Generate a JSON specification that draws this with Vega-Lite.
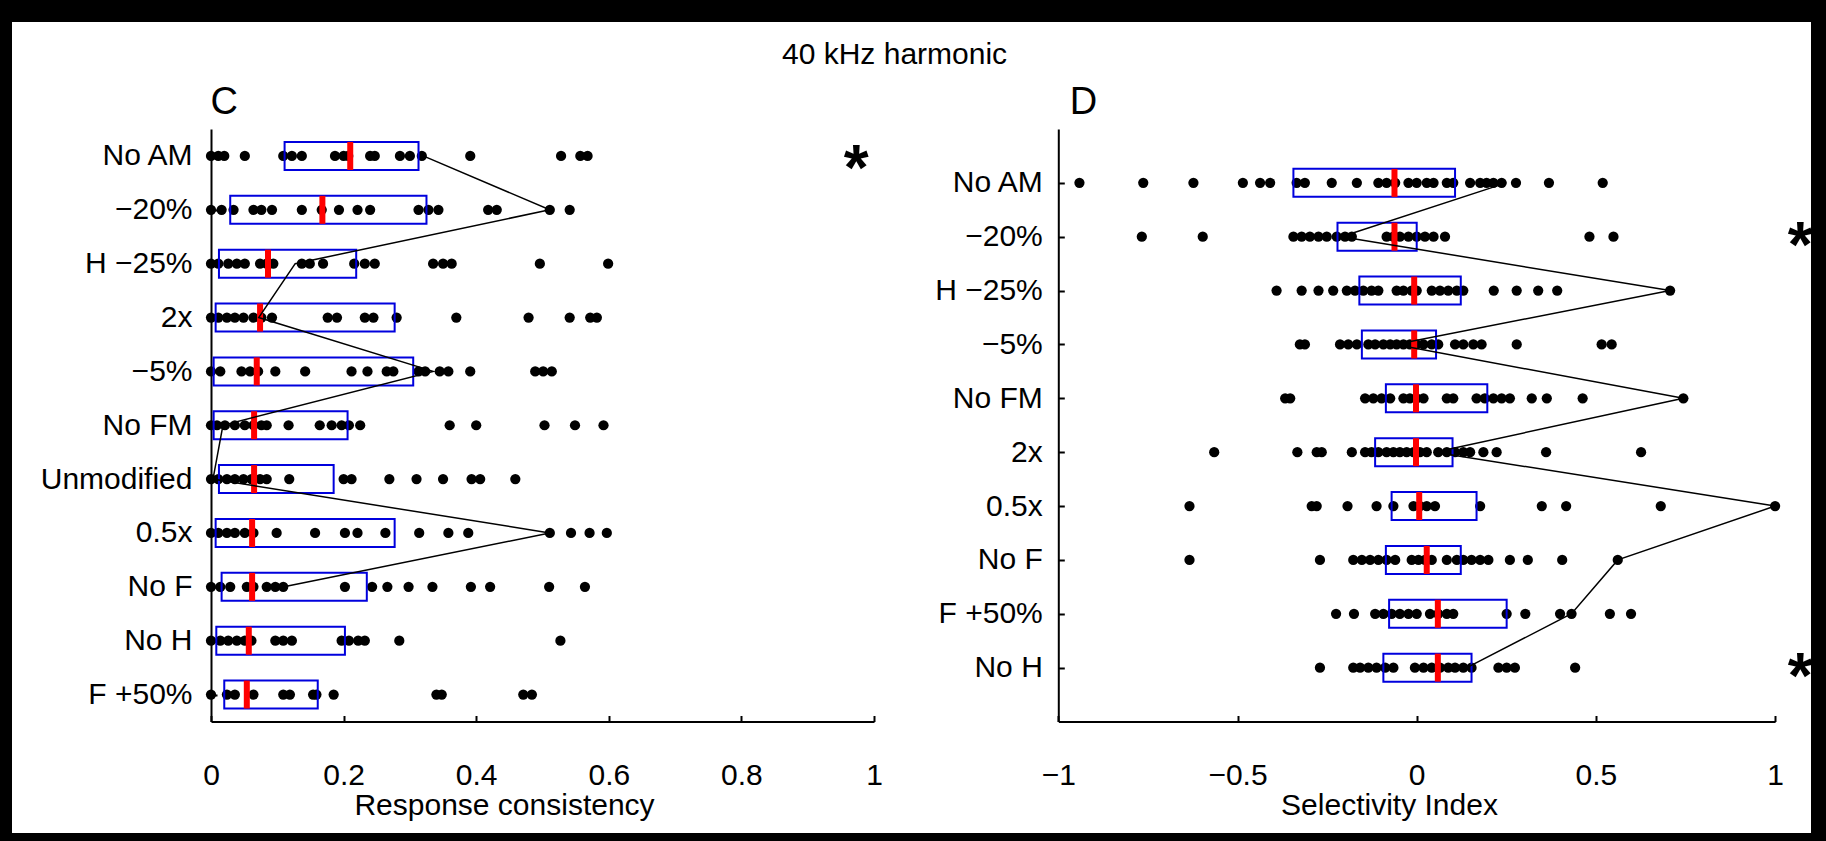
{
  "$schema": "https://vega.github.io/schema/vega-lite/v6.json",
  "width": 1799,
  "height": 811,
  "autosize": {"type": "none"},
  "padding": {"left": 12, "top": 22, "right": 15, "bottom": 8},
  "background": "black",
  "view": {"fill": "white", "stroke": null},
  "title": {
    "text": "40 kHz harmonic",
    "anchor": "start",
    "frame": "group",
    "offset": 0,
    "dx": 770,
    "dy": 72,
    "baseline": "alphabetic",
    "fontSize": 30,
    "fontWeight": "normal",
    "color": "black"
  },
  "config": {
    "font": "Liberation Sans",
    "axis": {
      "grid": false,
      "domainColor": "black",
      "domainWidth": 2,
      "tickColor": "black",
      "tickWidth": 2,
      "tickSize": -6,
      "labelColor": "black",
      "labelFontSize": 30,
      "labelFlush": false,
      "labelOverlap": false,
      "titleColor": "black",
      "titleFontWeight": "normal"
    },
    "axisX": {"labelPadding": 45}
  },
  "datasets": {
    "consistency": [
      {"stimulus": "No AM", "value": 0}, {"stimulus": "No AM", "value": 0.011}, {"stimulus": "No AM", "value": 0.02}, {"stimulus": "No AM", "value": 0.051},
      {"stimulus": "No AM", "value": 0.109}, {"stimulus": "No AM", "value": 0.122}, {"stimulus": "No AM", "value": 0.137}, {"stimulus": "No AM", "value": 0.187},
      {"stimulus": "No AM", "value": 0.2}, {"stimulus": "No AM", "value": 0.207}, {"stimulus": "No AM", "value": 0.24}, {"stimulus": "No AM", "value": 0.247},
      {"stimulus": "No AM", "value": 0.285}, {"stimulus": "No AM", "value": 0.3}, {"stimulus": "No AM", "value": 0.318}, {"stimulus": "No AM", "value": 0.391},
      {"stimulus": "No AM", "value": 0.528}, {"stimulus": "No AM", "value": 0.557}, {"stimulus": "No AM", "value": 0.568},
      {"stimulus": "−20%", "value": 0}, {"stimulus": "−20%", "value": 0.016}, {"stimulus": "−20%", "value": 0.034}, {"stimulus": "−20%", "value": 0.064},
      {"stimulus": "−20%", "value": 0.076}, {"stimulus": "−20%", "value": 0.092}, {"stimulus": "−20%", "value": 0.137}, {"stimulus": "−20%", "value": 0.167},
      {"stimulus": "−20%", "value": 0.193}, {"stimulus": "−20%", "value": 0.221}, {"stimulus": "−20%", "value": 0.24}, {"stimulus": "−20%", "value": 0.313},
      {"stimulus": "−20%", "value": 0.328}, {"stimulus": "−20%", "value": 0.343}, {"stimulus": "−20%", "value": 0.418}, {"stimulus": "−20%", "value": 0.431},
      {"stimulus": "−20%", "value": 0.511}, {"stimulus": "−20%", "value": 0.541},
      {"stimulus": "H −25%", "value": 0}, {"stimulus": "H −25%", "value": 0.011}, {"stimulus": "H −25%", "value": 0.026}, {"stimulus": "H −25%", "value": 0.039},
      {"stimulus": "H −25%", "value": 0.051}, {"stimulus": "H −25%", "value": 0.074}, {"stimulus": "H −25%", "value": 0.084}, {"stimulus": "H −25%", "value": 0.094},
      {"stimulus": "H −25%", "value": 0.137}, {"stimulus": "H −25%", "value": 0.149}, {"stimulus": "H −25%", "value": 0.169}, {"stimulus": "H −25%", "value": 0.216},
      {"stimulus": "H −25%", "value": 0.232}, {"stimulus": "H −25%", "value": 0.247}, {"stimulus": "H −25%", "value": 0.335}, {"stimulus": "H −25%", "value": 0.35},
      {"stimulus": "H −25%", "value": 0.363}, {"stimulus": "H −25%", "value": 0.496}, {"stimulus": "H −25%", "value": 0.599},
      {"stimulus": "2x", "value": 0}, {"stimulus": "2x", "value": 0.011}, {"stimulus": "2x", "value": 0.024}, {"stimulus": "2x", "value": 0.036},
      {"stimulus": "2x", "value": 0.049}, {"stimulus": "2x", "value": 0.064}, {"stimulus": "2x", "value": 0.076}, {"stimulus": "2x", "value": 0.092},
      {"stimulus": "2x", "value": 0.176}, {"stimulus": "2x", "value": 0.19}, {"stimulus": "2x", "value": 0.232}, {"stimulus": "2x", "value": 0.245},
      {"stimulus": "2x", "value": 0.28}, {"stimulus": "2x", "value": 0.37}, {"stimulus": "2x", "value": 0.479}, {"stimulus": "2x", "value": 0.541},
      {"stimulus": "2x", "value": 0.572}, {"stimulus": "2x", "value": 0.582},
      {"stimulus": "−5%", "value": 0}, {"stimulus": "−5%", "value": 0.014}, {"stimulus": "−5%", "value": 0.046}, {"stimulus": "−5%", "value": 0.059},
      {"stimulus": "−5%", "value": 0.071}, {"stimulus": "−5%", "value": 0.097}, {"stimulus": "−5%", "value": 0.142}, {"stimulus": "−5%", "value": 0.212},
      {"stimulus": "−5%", "value": 0.236}, {"stimulus": "−5%", "value": 0.265}, {"stimulus": "−5%", "value": 0.275}, {"stimulus": "−5%", "value": 0.313},
      {"stimulus": "−5%", "value": 0.323}, {"stimulus": "−5%", "value": 0.345}, {"stimulus": "−5%", "value": 0.358}, {"stimulus": "−5%", "value": 0.391},
      {"stimulus": "−5%", "value": 0.489}, {"stimulus": "−5%", "value": 0.501}, {"stimulus": "−5%", "value": 0.514},
      {"stimulus": "No FM", "value": 0}, {"stimulus": "No FM", "value": 0.009}, {"stimulus": "No FM", "value": 0.021}, {"stimulus": "No FM", "value": 0.036},
      {"stimulus": "No FM", "value": 0.051}, {"stimulus": "No FM", "value": 0.064}, {"stimulus": "No FM", "value": 0.076}, {"stimulus": "No FM", "value": 0.084},
      {"stimulus": "No FM", "value": 0.117}, {"stimulus": "No FM", "value": 0.164}, {"stimulus": "No FM", "value": 0.182}, {"stimulus": "No FM", "value": 0.197},
      {"stimulus": "No FM", "value": 0.208}, {"stimulus": "No FM", "value": 0.225}, {"stimulus": "No FM", "value": 0.36}, {"stimulus": "No FM", "value": 0.4},
      {"stimulus": "No FM", "value": 0.503}, {"stimulus": "No FM", "value": 0.549}, {"stimulus": "No FM", "value": 0.592},
      {"stimulus": "Unmodified", "value": 0}, {"stimulus": "Unmodified", "value": 0.011}, {"stimulus": "Unmodified", "value": 0.024}, {"stimulus": "Unmodified", "value": 0.036},
      {"stimulus": "Unmodified", "value": 0.049}, {"stimulus": "Unmodified", "value": 0.061}, {"stimulus": "Unmodified", "value": 0.074}, {"stimulus": "Unmodified", "value": 0.084},
      {"stimulus": "Unmodified", "value": 0.118}, {"stimulus": "Unmodified", "value": 0.2}, {"stimulus": "Unmodified", "value": 0.212}, {"stimulus": "Unmodified", "value": 0.269},
      {"stimulus": "Unmodified", "value": 0.31}, {"stimulus": "Unmodified", "value": 0.35}, {"stimulus": "Unmodified", "value": 0.393}, {"stimulus": "Unmodified", "value": 0.406},
      {"stimulus": "Unmodified", "value": 0.459},
      {"stimulus": "0.5x", "value": 0}, {"stimulus": "0.5x", "value": 0.011}, {"stimulus": "0.5x", "value": 0.024}, {"stimulus": "0.5x", "value": 0.036},
      {"stimulus": "0.5x", "value": 0.051}, {"stimulus": "0.5x", "value": 0.064}, {"stimulus": "0.5x", "value": 0.099}, {"stimulus": "0.5x", "value": 0.157},
      {"stimulus": "0.5x", "value": 0.202}, {"stimulus": "0.5x", "value": 0.221}, {"stimulus": "0.5x", "value": 0.263}, {"stimulus": "0.5x", "value": 0.314},
      {"stimulus": "0.5x", "value": 0.358}, {"stimulus": "0.5x", "value": 0.388}, {"stimulus": "0.5x", "value": 0.511}, {"stimulus": "0.5x", "value": 0.543},
      {"stimulus": "0.5x", "value": 0.571}, {"stimulus": "0.5x", "value": 0.597},
      {"stimulus": "No F", "value": 0}, {"stimulus": "No F", "value": 0.014}, {"stimulus": "No F", "value": 0.029}, {"stimulus": "No F", "value": 0.054},
      {"stimulus": "No F", "value": 0.064}, {"stimulus": "No F", "value": 0.084}, {"stimulus": "No F", "value": 0.097}, {"stimulus": "No F", "value": 0.109},
      {"stimulus": "No F", "value": 0.202}, {"stimulus": "No F", "value": 0.243}, {"stimulus": "No F", "value": 0.266}, {"stimulus": "No F", "value": 0.298},
      {"stimulus": "No F", "value": 0.334}, {"stimulus": "No F", "value": 0.392}, {"stimulus": "No F", "value": 0.421}, {"stimulus": "No F", "value": 0.51},
      {"stimulus": "No F", "value": 0.564},
      {"stimulus": "No H", "value": 0}, {"stimulus": "No H", "value": 0.014}, {"stimulus": "No H", "value": 0.026}, {"stimulus": "No H", "value": 0.039},
      {"stimulus": "No H", "value": 0.051}, {"stimulus": "No H", "value": 0.061}, {"stimulus": "No H", "value": 0.097}, {"stimulus": "No H", "value": 0.109},
      {"stimulus": "No H", "value": 0.122}, {"stimulus": "No H", "value": 0.197}, {"stimulus": "No H", "value": 0.208}, {"stimulus": "No H", "value": 0.222},
      {"stimulus": "No H", "value": 0.232}, {"stimulus": "No H", "value": 0.284}, {"stimulus": "No H", "value": 0.527},
      {"stimulus": "F +50%", "value": 0}, {"stimulus": "F +50%", "value": 0.024}, {"stimulus": "F +50%", "value": 0.036}, {"stimulus": "F +50%", "value": 0.064},
      {"stimulus": "F +50%", "value": 0.109}, {"stimulus": "F +50%", "value": 0.119}, {"stimulus": "F +50%", "value": 0.154}, {"stimulus": "F +50%", "value": 0.159},
      {"stimulus": "F +50%", "value": 0.185}, {"stimulus": "F +50%", "value": 0.34}, {"stimulus": "F +50%", "value": 0.348}, {"stimulus": "F +50%", "value": 0.471},
      {"stimulus": "F +50%", "value": 0.484}
    ],
    "consistencyBoxes": [
      {"stimulus": "No AM", "q1": 0.111, "median": 0.21, "q3": 0.313},
      {"stimulus": "−20%", "q1": 0.029, "median": 0.168, "q3": 0.325},
      {"stimulus": "H −25%", "q1": 0.012, "median": 0.086, "q3": 0.219},
      {"stimulus": "2x", "q1": 0.007, "median": 0.074, "q3": 0.277},
      {"stimulus": "−5%", "q1": 0.004, "median": 0.069, "q3": 0.305},
      {"stimulus": "No FM", "q1": 0.004, "median": 0.065, "q3": 0.206},
      {"stimulus": "Unmodified", "q1": 0.012, "median": 0.065, "q3": 0.185},
      {"stimulus": "0.5x", "q1": 0.007, "median": 0.062, "q3": 0.277},
      {"stimulus": "No F", "q1": 0.016, "median": 0.062, "q3": 0.235},
      {"stimulus": "No H", "q1": 0.008, "median": 0.057, "q3": 0.202},
      {"stimulus": "F +50%", "q1": 0.02, "median": 0.054, "q3": 0.161}
    ],
    "consistencyTrace": [
      {"stimulus": "No AM", "value": 0.32},
      {"stimulus": "−20%", "value": 0.511},
      {"stimulus": "H −25%", "value": 0.127},
      {"stimulus": "2x", "value": 0.072},
      {"stimulus": "−5%", "value": 0.335},
      {"stimulus": "No FM", "value": 0.018},
      {"stimulus": "Unmodified", "value": 0.003},
      {"stimulus": "0.5x", "value": 0.511},
      {"stimulus": "No F", "value": 0.11}
    ],
    "consistencyMarks": [
      {"stimulus": "No AM", "value": 0.973, "label": "*"}
    ],
    "selectivity": [
      {"stimulus": "No AM", "value": -0.941}, {"stimulus": "No AM", "value": -0.763}, {"stimulus": "No AM", "value": -0.623}, {"stimulus": "No AM", "value": -0.485},
      {"stimulus": "No AM", "value": -0.437}, {"stimulus": "No AM", "value": -0.409}, {"stimulus": "No AM", "value": -0.335}, {"stimulus": "No AM", "value": -0.312},
      {"stimulus": "No AM", "value": -0.237}, {"stimulus": "No AM", "value": -0.167}, {"stimulus": "No AM", "value": -0.107}, {"stimulus": "No AM", "value": -0.084},
      {"stimulus": "No AM", "value": -0.06}, {"stimulus": "No AM", "value": -0.023}, {"stimulus": "No AM", "value": 0}, {"stimulus": "No AM", "value": 0.028},
      {"stimulus": "No AM", "value": 0.047}, {"stimulus": "No AM", "value": 0.084}, {"stimulus": "No AM", "value": 0.102}, {"stimulus": "No AM", "value": 0.149},
      {"stimulus": "No AM", "value": 0.177}, {"stimulus": "No AM", "value": 0.195}, {"stimulus": "No AM", "value": 0.214}, {"stimulus": "No AM", "value": 0.237},
      {"stimulus": "No AM", "value": 0.277}, {"stimulus": "No AM", "value": 0.369}, {"stimulus": "No AM", "value": 0.519},
      {"stimulus": "−20%", "value": -0.767}, {"stimulus": "−20%", "value": -0.597}, {"stimulus": "−20%", "value": -0.344}, {"stimulus": "−20%", "value": -0.321},
      {"stimulus": "−20%", "value": -0.298}, {"stimulus": "−20%", "value": -0.274}, {"stimulus": "−20%", "value": -0.251}, {"stimulus": "−20%", "value": -0.223},
      {"stimulus": "−20%", "value": -0.2}, {"stimulus": "−20%", "value": -0.181}, {"stimulus": "−20%", "value": -0.084}, {"stimulus": "−20%", "value": -0.065},
      {"stimulus": "−20%", "value": -0.047}, {"stimulus": "−20%", "value": -0.023}, {"stimulus": "−20%", "value": 0}, {"stimulus": "−20%", "value": 0.023},
      {"stimulus": "−20%", "value": 0.047}, {"stimulus": "−20%", "value": 0.079}, {"stimulus": "−20%", "value": 0.482}, {"stimulus": "−20%", "value": 0.549},
      {"stimulus": "H −25%", "value": -0.391}, {"stimulus": "H −25%", "value": -0.321}, {"stimulus": "H −25%", "value": -0.274}, {"stimulus": "H −25%", "value": -0.233},
      {"stimulus": "H −25%", "value": -0.195}, {"stimulus": "H −25%", "value": -0.172}, {"stimulus": "H −25%", "value": -0.149}, {"stimulus": "H −25%", "value": -0.126},
      {"stimulus": "H −25%", "value": -0.107}, {"stimulus": "H −25%", "value": -0.056}, {"stimulus": "H −25%", "value": -0.037}, {"stimulus": "H −25%", "value": -0.014},
      {"stimulus": "H −25%", "value": 0}, {"stimulus": "H −25%", "value": 0.042}, {"stimulus": "H −25%", "value": 0.065}, {"stimulus": "H −25%", "value": 0.088},
      {"stimulus": "H −25%", "value": 0.112}, {"stimulus": "H −25%", "value": 0.13}, {"stimulus": "H −25%", "value": 0.215}, {"stimulus": "H −25%", "value": 0.279},
      {"stimulus": "H −25%", "value": 0.339}, {"stimulus": "H −25%", "value": 0.392}, {"stimulus": "H −25%", "value": 0.707},
      {"stimulus": "−5%", "value": -0.326}, {"stimulus": "−5%", "value": -0.312}, {"stimulus": "−5%", "value": -0.214}, {"stimulus": "−5%", "value": -0.191},
      {"stimulus": "−5%", "value": -0.167}, {"stimulus": "−5%", "value": -0.135}, {"stimulus": "−5%", "value": -0.116}, {"stimulus": "−5%", "value": -0.093},
      {"stimulus": "−5%", "value": -0.074}, {"stimulus": "−5%", "value": -0.056}, {"stimulus": "−5%", "value": -0.037}, {"stimulus": "−5%", "value": -0.019},
      {"stimulus": "−5%", "value": 0}, {"stimulus": "−5%", "value": 0.019}, {"stimulus": "−5%", "value": 0.042}, {"stimulus": "−5%", "value": 0.06},
      {"stimulus": "−5%", "value": 0.107}, {"stimulus": "−5%", "value": 0.13}, {"stimulus": "−5%", "value": 0.158}, {"stimulus": "−5%", "value": 0.181},
      {"stimulus": "−5%", "value": 0.279}, {"stimulus": "−5%", "value": 0.516}, {"stimulus": "−5%", "value": 0.544},
      {"stimulus": "No FM", "value": -0.367}, {"stimulus": "No FM", "value": -0.353}, {"stimulus": "No FM", "value": -0.144}, {"stimulus": "No FM", "value": -0.121},
      {"stimulus": "No FM", "value": -0.098}, {"stimulus": "No FM", "value": -0.074}, {"stimulus": "No FM", "value": -0.037}, {"stimulus": "No FM", "value": -0.019},
      {"stimulus": "No FM", "value": 0}, {"stimulus": "No FM", "value": 0.019}, {"stimulus": "No FM", "value": 0.084}, {"stimulus": "No FM", "value": 0.102},
      {"stimulus": "No FM", "value": 0.167}, {"stimulus": "No FM", "value": 0.19}, {"stimulus": "No FM", "value": 0.214}, {"stimulus": "No FM", "value": 0.237},
      {"stimulus": "No FM", "value": 0.26}, {"stimulus": "No FM", "value": 0.321}, {"stimulus": "No FM", "value": 0.363}, {"stimulus": "No FM", "value": 0.463},
      {"stimulus": "No FM", "value": 0.744},
      {"stimulus": "2x", "value": -0.565}, {"stimulus": "2x", "value": -0.333}, {"stimulus": "2x", "value": -0.279}, {"stimulus": "2x", "value": -0.265},
      {"stimulus": "2x", "value": -0.181}, {"stimulus": "2x", "value": -0.144}, {"stimulus": "2x", "value": -0.126}, {"stimulus": "2x", "value": -0.107},
      {"stimulus": "2x", "value": -0.084}, {"stimulus": "2x", "value": -0.065}, {"stimulus": "2x", "value": -0.047}, {"stimulus": "2x", "value": -0.028},
      {"stimulus": "2x", "value": -0.009}, {"stimulus": "2x", "value": 0.009}, {"stimulus": "2x", "value": 0.028}, {"stimulus": "2x", "value": 0.06},
      {"stimulus": "2x", "value": 0.084}, {"stimulus": "2x", "value": 0.107}, {"stimulus": "2x", "value": 0.13}, {"stimulus": "2x", "value": 0.149},
      {"stimulus": "2x", "value": 0.186}, {"stimulus": "2x", "value": 0.223}, {"stimulus": "2x", "value": 0.361}, {"stimulus": "2x", "value": 0.626},
      {"stimulus": "0.5x", "value": -0.634}, {"stimulus": "0.5x", "value": -0.293}, {"stimulus": "0.5x", "value": -0.279}, {"stimulus": "0.5x", "value": -0.193},
      {"stimulus": "0.5x", "value": -0.112}, {"stimulus": "0.5x", "value": -0.065}, {"stimulus": "0.5x", "value": -0.009}, {"stimulus": "0.5x", "value": 0.009},
      {"stimulus": "0.5x", "value": 0.028}, {"stimulus": "0.5x", "value": 0.051}, {"stimulus": "0.5x", "value": 0.177}, {"stimulus": "0.5x", "value": 0.349},
      {"stimulus": "0.5x", "value": 0.417}, {"stimulus": "0.5x", "value": 0.681}, {"stimulus": "0.5x", "value": 1},
      {"stimulus": "No F", "value": -0.634}, {"stimulus": "No F", "value": -0.27}, {"stimulus": "No F", "value": -0.177}, {"stimulus": "No F", "value": -0.153},
      {"stimulus": "No F", "value": -0.13}, {"stimulus": "No F", "value": -0.107}, {"stimulus": "No F", "value": -0.084}, {"stimulus": "No F", "value": -0.06},
      {"stimulus": "No F", "value": -0.014}, {"stimulus": "No F", "value": 0.005}, {"stimulus": "No F", "value": 0.023}, {"stimulus": "No F", "value": 0.042},
      {"stimulus": "No F", "value": 0.084}, {"stimulus": "No F", "value": 0.112}, {"stimulus": "No F", "value": 0.13}, {"stimulus": "No F", "value": 0.153},
      {"stimulus": "No F", "value": 0.177}, {"stimulus": "No F", "value": 0.2}, {"stimulus": "No F", "value": 0.26}, {"stimulus": "No F", "value": 0.31},
      {"stimulus": "No F", "value": 0.406}, {"stimulus": "No F", "value": 0.561},
      {"stimulus": "F +50%", "value": -0.225}, {"stimulus": "F +50%", "value": -0.175}, {"stimulus": "F +50%", "value": -0.116}, {"stimulus": "F +50%", "value": -0.093},
      {"stimulus": "F +50%", "value": -0.07}, {"stimulus": "F +50%", "value": -0.047}, {"stimulus": "F +50%", "value": -0.023}, {"stimulus": "F +50%", "value": 0},
      {"stimulus": "F +50%", "value": 0.037}, {"stimulus": "F +50%", "value": 0.06}, {"stimulus": "F +50%", "value": 0.084}, {"stimulus": "F +50%", "value": 0.102},
      {"stimulus": "F +50%", "value": 0.251}, {"stimulus": "F +50%", "value": 0.303}, {"stimulus": "F +50%", "value": 0.4}, {"stimulus": "F +50%", "value": 0.432},
      {"stimulus": "F +50%", "value": 0.539}, {"stimulus": "F +50%", "value": 0.598},
      {"stimulus": "No H", "value": -0.27}, {"stimulus": "No H", "value": -0.177}, {"stimulus": "No H", "value": -0.158}, {"stimulus": "No H", "value": -0.135},
      {"stimulus": "No H", "value": -0.112}, {"stimulus": "No H", "value": -0.088}, {"stimulus": "No H", "value": -0.065}, {"stimulus": "No H", "value": -0.005},
      {"stimulus": "No H", "value": 0.019}, {"stimulus": "No H", "value": 0.042}, {"stimulus": "No H", "value": 0.065}, {"stimulus": "No H", "value": 0.088},
      {"stimulus": "No H", "value": 0.107}, {"stimulus": "No H", "value": 0.13}, {"stimulus": "No H", "value": 0.153}, {"stimulus": "No H", "value": 0.228},
      {"stimulus": "No H", "value": 0.251}, {"stimulus": "No H", "value": 0.274}, {"stimulus": "No H", "value": 0.442}
    ],
    "selectivityBoxes": [
      {"stimulus": "No AM", "q1": -0.344, "median": -0.062, "q3": 0.107},
      {"stimulus": "−20%", "q1": -0.221, "median": -0.062, "q3": 0},
      {"stimulus": "H −25%", "q1": -0.16, "median": -0.007, "q3": 0.123},
      {"stimulus": "−5%", "q1": -0.153, "median": -0.007, "q3": 0.054},
      {"stimulus": "No FM", "q1": -0.086, "median": -0.002, "q3": 0.197},
      {"stimulus": "2x", "q1": -0.116, "median": -0.002, "q3": 0.1},
      {"stimulus": "0.5x", "q1": -0.07, "median": 0.007, "q3": 0.167},
      {"stimulus": "No F", "q1": -0.086, "median": 0.028, "q3": 0.123},
      {"stimulus": "F +50%", "q1": -0.077, "median": 0.059, "q3": 0.251},
      {"stimulus": "No H", "q1": -0.093, "median": 0.059, "q3": 0.153}
    ],
    "selectivityTrace": [
      {"stimulus": "No AM", "value": 0.25},
      {"stimulus": "−20%", "value": -0.21},
      {"stimulus": "H −25%", "value": 0.707},
      {"stimulus": "−5%", "value": -0.06},
      {"stimulus": "No FM", "value": 0.744},
      {"stimulus": "2x", "value": 0.05},
      {"stimulus": "0.5x", "value": 1},
      {"stimulus": "No F", "value": 0.561},
      {"stimulus": "F +50%", "value": 0.432},
      {"stimulus": "No H", "value": 0.14}
    ],
    "selectivityMarks": [
      {"stimulus": "−20%", "value": 1.07, "label": "*"},
      {"stimulus": "No H", "value": 1.07, "label": "*"}
    ]
  },
  "layer": [
    {
      "layer": [
        {
          "data": {"name": "consistency"},
          "mark": {"type": "circle", "size": 105, "color": "black", "opacity": 1},
          "encoding": {
            "x": {
              "field": "value", "type": "quantitative", "title": "Response consistency",
              "scale": {"domain": [0, 1], "range": [199, 862], "nice": false, "zero": false},
              "axis": {
                "orient": "bottom", "offset": -111.5, "values": [0, 0.2, 0.4, 0.6, 0.8, 1], "format": "~g",
                "titleX": 492, "titleY": 92.5, "titleAlign": "center", "titleBaseline": "alphabetic", "titleFontSize": 30
              }
            },
            "y": {
              "field": "stimulus", "type": "nominal", "title": "C",
              "scale": {
                "type": "point", "padding": 0.5, "range": [107, 699.5],
                "domain": ["No AM", "−20%", "H −25%", "2x", "−5%", "No FM", "Unmodified", "0.5x", "No F", "No H", "F +50%"]
              },
              "axis": {
                "orient": "left", "offset": -199, "labelPadding": 25,
                "titleAngle": 0, "titleAlign": "left", "titleBaseline": "alphabetic", "titleX": -1, "titleY": 91.5, "titleFontSize": 38
              }
            }
          }
        },
        {
          "data": {"name": "consistencyBoxes"},
          "mark": {"type": "bar", "filled": false, "color": "#0000dd", "strokeWidth": 2, "size": 28},
          "encoding": {
            "x": {"field": "q1", "type": "quantitative", "title": "Response consistency"},
            "x2": {"field": "q3"},
            "y": {"field": "stimulus", "type": "nominal", "title": "C"}
          }
        },
        {
          "data": {"name": "consistencyBoxes"},
          "mark": {"type": "tick", "color": "#ff0000", "thickness": 6, "size": 28, "opacity": 1},
          "encoding": {
            "x": {"field": "median", "type": "quantitative", "title": "Response consistency"},
            "y": {"field": "stimulus", "type": "nominal", "title": "C"}
          }
        },
        {
          "data": {"name": "consistencyTrace"},
          "mark": {"type": "line", "color": "black", "strokeWidth": 1.5},
          "encoding": {
            "x": {"field": "value", "type": "quantitative", "title": "Response consistency"},
            "y": {"field": "stimulus", "type": "nominal", "title": "C"},
            "order": {"value": null}
          }
        },
        {
          "data": {"name": "consistencyMarks"},
          "mark": {"type": "text", "fontSize": 64, "fontWeight": "bold", "align": "center", "baseline": "alphabetic", "dy": 34, "color": "black"},
          "encoding": {
            "x": {"field": "value", "type": "quantitative", "title": "Response consistency"},
            "y": {"field": "stimulus", "type": "nominal", "title": "C"},
            "text": {"field": "label"}
          }
        }
      ]
    },
    {
      "layer": [
        {
          "data": {"name": "selectivity"},
          "mark": {"type": "circle", "size": 105, "color": "black", "opacity": 1},
          "encoding": {
            "x": {
              "field": "value", "type": "quantitative", "title": "Selectivity Index",
              "scale": {"domain": [-1, 1], "range": [1046.3, 1763.1], "nice": false, "zero": false},
              "axis": {
                "orient": "bottom", "offset": -111.5, "values": [-1, -0.5, 0, 0.5, 1], "format": "~g",
                "titleX": 1377, "titleY": 92.5, "titleAlign": "center", "titleBaseline": "alphabetic", "titleFontSize": 30
              }
            },
            "y": {
              "field": "stimulus", "type": "nominal", "title": "D",
              "scale": {
                "type": "point", "padding": 1, "range": [107, 699.5],
                "domain": ["No AM", "−20%", "H −25%", "−5%", "No FM", "2x", "0.5x", "No F", "F +50%", "No H"]
              },
              "axis": {
                "orient": "left", "offset": -1046.3, "labelPadding": 22,
                "titleAngle": 0, "titleAlign": "left", "titleBaseline": "alphabetic", "titleX": 11, "titleY": 91.5, "titleFontSize": 38
              }
            }
          }
        },
        {
          "mark": {"type": "rule", "color": "#4a5060", "strokeWidth": 1, "yOffset": -53.86, "y2Offset": 53.86},
          "encoding": {
            "x": {"datum": 0, "type": "quantitative", "title": "Selectivity Index"},
            "y": {"datum": "No AM", "type": "nominal", "title": "D"},
            "y2": {"datum": "No H"}
          }
        },
        {
          "data": {"name": "selectivityBoxes"},
          "mark": {"type": "bar", "filled": false, "color": "#0000dd", "strokeWidth": 2, "size": 28},
          "encoding": {
            "x": {"field": "q1", "type": "quantitative", "title": "Selectivity Index"},
            "x2": {"field": "q3"},
            "y": {"field": "stimulus", "type": "nominal", "title": "D"}
          }
        },
        {
          "data": {"name": "selectivityBoxes"},
          "mark": {"type": "tick", "color": "#ff0000", "thickness": 6, "size": 28, "opacity": 1},
          "encoding": {
            "x": {"field": "median", "type": "quantitative", "title": "Selectivity Index"},
            "y": {"field": "stimulus", "type": "nominal", "title": "D"}
          }
        },
        {
          "data": {"name": "selectivityTrace"},
          "mark": {"type": "line", "color": "black", "strokeWidth": 1.5},
          "encoding": {
            "x": {"field": "value", "type": "quantitative", "title": "Selectivity Index"},
            "y": {"field": "stimulus", "type": "nominal", "title": "D"},
            "order": {"value": null}
          }
        },
        {
          "data": {"name": "selectivityMarks"},
          "mark": {"type": "text", "fontSize": 64, "fontWeight": "bold", "align": "center", "baseline": "alphabetic", "dy": 30, "color": "black"},
          "encoding": {
            "x": {"field": "value", "type": "quantitative", "title": "Selectivity Index"},
            "y": {"field": "stimulus", "type": "nominal", "title": "D"},
            "text": {"field": "label"}
          }
        }
      ]
    }
  ],
  "resolve": {
    "scale": {"x": "independent", "y": "independent"},
    "axis": {"x": "independent", "y": "independent"}
  }
}
